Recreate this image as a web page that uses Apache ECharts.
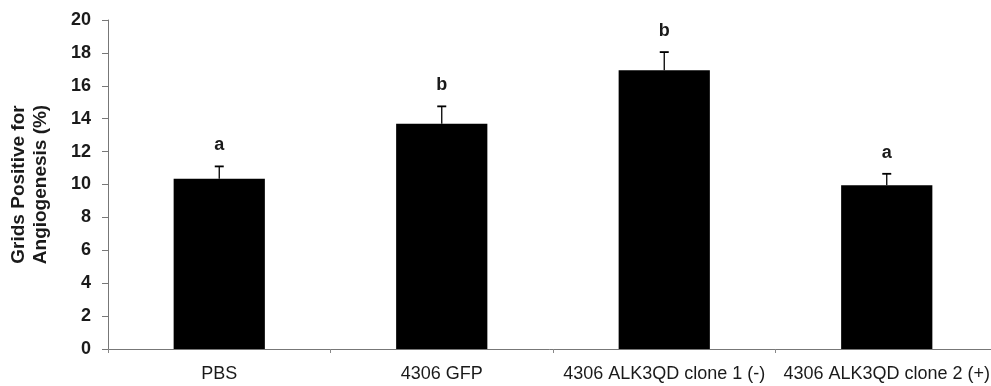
<!DOCTYPE html>
<html>
<head>
    <meta charset="utf-8">
    <title>Angiogenesis</title>
    <script src="https://cdn.jsdelivr.net/npm/echarts@6/dist/echarts.min.js"></script>
    <style>
        html, body { margin: 0; padding: 0; background: #fff; }
        #chart { width: 991px; height: 386px; }
    </style>
</head>
<body>
<div id="chart"></div>
<script>
    // data
    var groups = ['PBS', '4306 GFP', '4306 ALK3QD clone 1 (-)', '4306 ALK3QD clone 2 (+)'];
    var means = [10.35, 13.7, 16.95, 9.95];
    var errors = [0.75, 1.05, 1.1, 0.7];
    var letters = ['a', 'b', 'b', 'a'];

    var myChart = echarts.init(document.getElementById('chart'));

    var errData = [];
    for (var i = 0; i < groups.length; i++) {
        errData.push([i, means[i], means[i] + errors[i], letters[i]]);
    }

    var option = {
        animation: false,
        grid: {
            left: 108,
            top: 20,
            width: 890,
            bottom: 37,
            outerBoundsMode: 'none'
        },
        xAxis: {
            type: 'category',
            data: groups,
            axisLine: { lineStyle: { color: '#777', width: 1 } },
            axisTick: { show: true, length: 4, lineStyle: { color: '#888' } },
            axisLabel: {
                color: '#1a1a1a',
                fontFamily: 'Liberation Sans, Arial',
                fontSize: 18,
                margin: 16,
                interval: 0
            }
        },
        yAxis: {
            type: 'value',
            min: 0,
            max: 20,
            interval: 2,
            name: 'Grids Positive for\nAngiogenesis (%)',
            nameLocation: 'middle',
            nameGap: 56,
            nameTextStyle: {
                color: '#1a1a1a',
                fontFamily: 'Liberation Sans, Arial',
                fontSize: 19,
                fontWeight: 'bold',
                lineHeight: 22
            },
            splitLine: { show: false },
            axisLine: { show: true, lineStyle: { color: '#777', width: 1 } },
            axisTick: { show: true, length: 6, lineStyle: { color: '#777' } },
            axisLabel: {
                color: '#1a1a1a',
                fontFamily: 'Liberation Sans, Arial',
                fontSize: 18,
                fontWeight: 'bold',
                margin: 17
            }
        },
        series: [
            {
                type: 'bar',
                data: means,
                barWidth: '41%',
                itemStyle: { color: '#000' }
            },
            {
                type: 'custom',
                data: errData,
                z: 10,
                renderItem: function (params, api) {
                    var base = api.coord([api.value(0), api.value(1)]);
                    var top = api.coord([api.value(0), api.value(2)]);
                    return {
                        type: 'group',
                        children: [
                            {
                                type: 'line',
                                shape: { x1: base[0], y1: base[1], x2: top[0], y2: top[1] },
                                style: { stroke: '#000', lineWidth: 1.3 }
                            },
                            {
                                type: 'line',
                                shape: { x1: top[0] - 4.5, y1: top[1], x2: top[0] + 4.5, y2: top[1] },
                                style: { stroke: '#000', lineWidth: 1.8 }
                            },
                            {
                                type: 'text',
                                x: top[0],
                                y: top[1] - 12,
                                style: {
                                    text: api.value(3),
                                    fill: '#1a1a1a',
                                    font: 'bold 18px Liberation Sans, Arial',
                                    align: 'center',
                                    verticalAlign: 'bottom'
                                }
                            }
                        ]
                    };
                }
            }
        ]
    };
    myChart.setOption(option);
</script>
</body>
</html>
